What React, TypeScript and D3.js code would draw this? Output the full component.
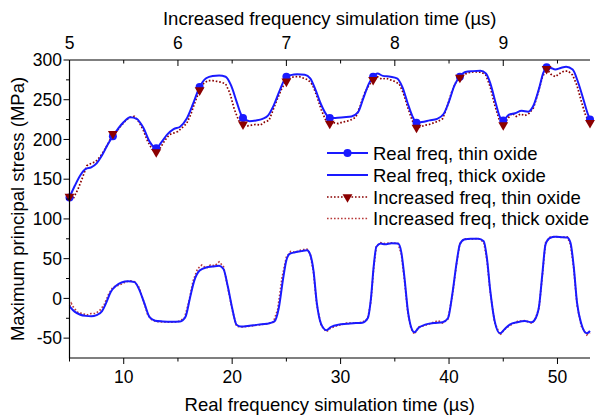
import React from 'react';
import * as d3 from 'd3';

// Real-frequency runs: [time (µs, real frequency), max principal stress (MPa)]
const realThinOxide: [number, number][] = [
  [5.0, 127], [5.5, 142], [6.0, 155], [6.5, 163], [7.0, 165], [7.5, 170], [8.0, 180], [8.5, 193],
  [9.0, 204], [9.5, 214], [10.0, 222], [10.6, 228], [11.2, 226], [11.8, 215], [12.4, 197], [13.0, 189],
  [13.5, 197], [14.0, 206], [14.6, 213], [15.2, 216], [15.8, 226], [16.4, 245], [17.0, 266], [17.6, 277],
  [18.2, 280], [18.8, 280.5], [19.4, 279], [19.9, 268], [20.4, 248], [20.8, 232], [21.0, 227], [21.6, 223],
  [22.2, 224], [22.8, 226], [23.3, 230], [23.8, 242], [24.4, 262], [25.0, 279], [25.4, 281], [26.0, 282],
  [26.7, 281.5], [27.2, 277], [27.7, 262], [28.2, 244], [28.7, 231], [29.0, 227], [29.5, 227], [30.3, 228],
  [31.0, 229], [31.6, 234], [32.1, 252], [32.6, 270], [33.0, 279], [33.4, 283], [33.9, 280], [34.6, 279],
  [35.2, 277], [35.7, 266], [36.2, 245], [36.6, 230], [37.0, 221], [37.5, 222], [38.2, 224], [38.9, 226],
  [39.5, 232], [40.0, 248], [40.5, 268], [41.0, 279], [41.5, 285], [42.2, 286], [42.9, 286.5], [43.4, 283],
  [43.8, 271], [44.3, 246], [44.7, 228], [45.0, 224], [45.5, 231], [46.1, 233], [46.7, 236], [47.3, 235],
  [47.8, 243], [48.3, 264], [48.7, 284], [49.0, 291], [49.4, 290], [49.8, 288], [50.3, 290], [50.8, 291.5],
  [51.4, 288], [51.9, 272], [52.4, 250], [52.8, 232], [53.0, 225],
];

const realThickOxide: [number, number][] = [
  [5.0, -10], [5.5, -17], [6.0, -20.5], [6.5, -22], [7.0, -22.5], [7.5, -21], [8.0, -16], [8.4, -5],
  [8.8, 8], [9.3, 16], [9.8, 20], [10.4, 21.5], [11.0, 20.5], [11.4, 12], [11.9, -6], [12.4, -24],
  [12.9, -28], [13.6, -29], [14.4, -29.5], [15.2, -29], [15.7, -23], [16.1, 0], [16.5, 22], [17.0, 35],
  [17.6, 39], [18.2, 40], [18.8, 41], [19.2, 37], [19.6, 15], [20.0, -12], [20.4, -33], [20.8, -35.5],
  [21.6, -34.5], [22.4, -33], [23.2, -32], [23.9, -29], [24.3, -12], [24.7, 25], [25.0, 48], [25.3, 56],
  [25.8, 58], [26.4, 59.5], [26.9, 60.5], [27.2, 55], [27.5, 35], [27.8, -5], [28.2, -32], [28.7, -40],
  [29.1, -36], [29.8, -33], [30.6, -32], [31.4, -31], [32.0, -30.5], [32.5, -25], [32.8, 0], [33.05, 40],
  [33.3, 65], [33.7, 69], [34.1, 68], [34.7, 69.5], [35.3, 69], [35.6, 58], [35.9, 25], [36.2, -15],
  [36.5, -36], [36.8, -42.5], [37.2, -37], [37.8, -33], [38.6, -31], [39.4, -30], [39.9, -25], [40.3, 5],
  [40.7, 45], [41.0, 68], [41.4, 74], [42.0, 75], [42.7, 75], [43.2, 72], [43.5, 50], [43.8, 10],
  [44.2, -28], [44.7, -44], [45.1, -39], [45.6, -33], [46.3, -30], [47.0, -28.5], [47.6, -30], [47.9, -27],
  [48.3, -10], [48.6, 30], [48.9, 68], [49.3, 76], [49.8, 77.5], [50.4, 77], [50.9, 76.5], [51.2, 70],
  [51.5, 40], [51.8, -5], [52.2, -32], [52.7, -44], [53.0, -41],
];

// Increased-frequency runs: [time (µs, increased frequency), max principal stress (MPa)]
const incThinOxide: [number, number][] = [
  [5.00, 128], [5.04, 127], [5.08, 138], [5.12, 152], [5.16, 167], [5.20, 170], [5.24, 172], [5.28, 178],
  [5.32, 186], [5.36, 196], [5.40, 207], [5.44, 211], [5.48, 218], [5.52, 224], [5.56, 228], [5.60, 229],
  [5.64, 222], [5.68, 212], [5.72, 198], [5.76, 188], [5.80, 184], [5.84, 190], [5.88, 199], [5.92, 206],
  [5.96, 208], [6.00, 210], [6.04, 215], [6.08, 220], [6.12, 232], [6.16, 248], [6.20, 262], [6.24, 271],
  [6.28, 274], [6.32, 274], [6.36, 273], [6.40, 272], [6.44, 270], [6.48, 258], [6.52, 238], [6.56, 224],
  [6.60, 219], [6.64, 217], [6.68, 218], [6.72, 219], [6.76, 218], [6.80, 222], [6.84, 224], [6.88, 238],
  [6.92, 252], [6.96, 265], [7.00, 273], [7.04, 278], [7.08, 279], [7.12, 279], [7.16, 277], [7.20, 275],
  [7.24, 269], [7.28, 255], [7.32, 238], [7.36, 225], [7.40, 220], [7.44, 221], [7.48, 220], [7.52, 222],
  [7.56, 223], [7.60, 225], [7.64, 228], [7.68, 242], [7.72, 258], [7.76, 268], [7.80, 275], [7.84, 279],
  [7.88, 276], [7.92, 277], [7.96, 275], [8.00, 273], [8.04, 270], [8.08, 258], [8.12, 240], [8.16, 224],
  [8.20, 215], [8.24, 216], [8.28, 218], [8.32, 219], [8.36, 221], [8.40, 223], [8.44, 226], [8.48, 240],
  [8.52, 258], [8.56, 271], [8.60, 278], [8.64, 282], [8.68, 284], [8.72, 285], [8.76, 285], [8.80, 284.5],
  [8.84, 281], [8.88, 266], [8.92, 244], [8.96, 226], [9.00, 218], [9.04, 226], [9.08, 233], [9.12, 229],
  [9.16, 232], [9.20, 230], [9.24, 233], [9.28, 240], [9.32, 258], [9.36, 278], [9.40, 289], [9.44, 282],
  [9.48, 279], [9.52, 283], [9.56, 286], [9.60, 286], [9.64, 281], [9.68, 268], [9.72, 248], [9.76, 230],
  [9.80, 221],
];

const incThickOxide: [number, number][] = [
  [5.0, -10], [5.015, -6], [5.04, -12], [5.08, -18], [5.12, -19], [5.16, -21], [5.2, -19], [5.24, -19],
  [5.28, -15], [5.32, -8], [5.36, 5], [5.4, 14], [5.44, 16], [5.48, 18], [5.52, 21], [5.56, 22],
  [5.6, 21], [5.64, 14], [5.68, -2], [5.72, -20], [5.76, -27], [5.8, -29], [5.84, -29.5], [5.92, -30],
  [6.0, -29.5], [6.06, -25], [6.1, -5], [6.14, 22], [6.18, 37], [6.22, 42], [6.26, 38], [6.3, 42],
  [6.34, 41], [6.38, 46], [6.42, 40], [6.46, 14], [6.5, -14], [6.54, -35], [6.58, -36], [6.66, -35],
  [6.74, -33.5], [6.82, -32], [6.88, -30], [6.92, -14], [6.96, 26], [7.0, 52], [7.04, 59], [7.08, 58],
  [7.14, 61], [7.19, 62], [7.22, 56], [7.25, 33], [7.28, -8], [7.32, -34], [7.37, -42], [7.41, -37],
  [7.48, -34], [7.56, -31], [7.64, -31], [7.7, -30], [7.75, -26], [7.78, -3], [7.805, 38], [7.83, 66],
  [7.87, 70], [7.91, 69], [7.97, 70], [8.03, 69], [8.06, 56], [8.09, 22], [8.12, -18], [8.15, -38],
  [8.18, -45], [8.22, -36], [8.28, -34], [8.36, -30], [8.4, -28], [8.44, -31], [8.49, -26], [8.53, 3],
  [8.57, 44], [8.6, 69], [8.64, 75], [8.7, 74.5], [8.77, 75.5], [8.82, 71], [8.85, 48], [8.88, 8],
  [8.92, -30], [8.97, -46], [9.01, -39], [9.06, -34], [9.13, -29], [9.2, -28], [9.26, -31], [9.29, -28],
  [9.33, -12], [9.36, 28], [9.39, 70], [9.43, 77], [9.48, 78], [9.54, 76.5], [9.59, 77.5], [9.62, 68],
  [9.65, 38], [9.68, -8], [9.72, -35], [9.77, -46], [9.8, -43],
];

const realMarkerTimes = [5, 9, 13, 17, 21, 25, 29, 33, 37, 41, 45, 49, 53];
const incMarkerTimes = [5.0, 5.4, 5.8, 6.2, 6.6, 7.0, 7.4, 7.8, 8.2, 8.6, 9.0, 9.4, 9.8];

const stressTicks = [-50, 0, 50, 100, 150, 200, 250, 300];
const stressMinorTicks = [-25, 25, 75, 125, 175, 225, 275];
const realTicks = [10, 20, 30, 40, 50];
const realMinorTicks = [5, 15, 25, 35, 45];
const incTicks = [5, 6, 7, 8, 9];
const incMinorTicks = [5.5, 6.5, 7.5, 8.5, 9.5];

const legendLabels = [
  'Real freq, thin oxide',
  'Real freq, thick oxide',
  'Increased freq, thin oxide',
  'Increased freq, thick oxide',
];

const BLUE = '#1a1aff';
const DARK_RED = '#8b0000';
const LIGHT_RED = '#b83a3a';
const DOTS = '1.6,1.9';
const FONT = 'Arial, "Liberation Sans", sans-serif';

export default function App() {
  const W = 595;
  const H = 417;
  const left = 69.5;
  const right = 590;
  const top = 60;
  const bottom = 358;

  const xReal = d3.scaleLinear().domain([5, 53]).range([left, right]);
  const xInc = d3.scaleLinear().domain([5, 9.8]).range([left, right]);
  const y = d3.scaleLinear().domain([-75, 300]).range([bottom, top]);

  const realLine = d3
    .line<[number, number]>()
    .x((d) => xReal(d[0]))
    .y((d) => y(d[1]))
    .curve(d3.curveMonotoneX);
  const incLine = d3
    .line<[number, number]>()
    .x((d) => xInc(d[0]))
    .y((d) => y(d[1]));

  const findPoint = (series: [number, number][], t: number) =>
    series.find((d) => Math.abs(d[0] - t) < 1e-6)!;

  const tri = d3.symbol(d3.symbolTriangle, 42)()!;
  const triDown = (cx: number, cy: number) => `translate(${cx},${cy}) rotate(180)`;

  const tickFont = 17.5;
  const titleFont = 18.5;
  const major = 6;
  const minor = 3.5;

  const legX0 = 327;
  const legX1 = 368;
  const legText = 373;
  const legRows = [153, 175, 197, 218.5];

  return (
    <svg
      width={W}
      height={H}
      viewBox={`0 0 ${W} ${H}`}
      style={{ position: 'absolute', left: 0, top: 0, background: '#fff' }}
      fontFamily={FONT}
    >
      <rect x={0} y={0} width={W} height={H} fill="#fff" />

      {/* data lines */}
      <path d={incLine(incThickOxide)!} fill="none" stroke={LIGHT_RED} strokeWidth={1.7} strokeDasharray={DOTS} />
      <path d={incLine(incThinOxide)!} fill="none" stroke={DARK_RED} strokeWidth={1.7} strokeDasharray={DOTS} />
      <path d={realLine(realThickOxide)!} fill="none" stroke={BLUE} strokeWidth={2} />
      <path d={realLine(realThinOxide)!} fill="none" stroke={BLUE} strokeWidth={2} />

      {/* markers */}
      {realMarkerTimes.map((t) => {
        const p = findPoint(realThinOxide, t);
        return p ? <circle key={`c${t}`} cx={xReal(p[0])} cy={y(p[1])} r={4} fill={BLUE} /> : null;
      })}
      {incMarkerTimes.map((t) => {
        const p = findPoint(incThinOxide, t);
        return p ? (
          <path key={`t${t}`} d={tri} transform={triDown(xInc(p[0]), y(p[1]))} fill={DARK_RED} />
        ) : null;
      })}

      {/* axes lines */}
      <g stroke="#000" strokeWidth={1.2} fill="none">
        <line x1={left} x2={left} y1={top} y2={bottom + 0.6} />
        <line x1={left} x2={right} y1={bottom} y2={bottom} />
        <line x1={left} x2={right} y1={top} y2={top} />
      </g>

      {/* left axis */}
      <g stroke="#000" strokeWidth={1}>
        {stressTicks.map((v) => (
          <line key={`ly${v}`} x1={left - major} x2={left} y1={y(v)} y2={y(v)} />
        ))}
        {stressMinorTicks.map((v) => (
          <line key={`lym${v}`} x1={left - minor} x2={left} y1={y(v)} y2={y(v)} />
        ))}
      </g>
      {stressTicks.map((v) => (
        <text key={`lt${v}`} x={left - major - 1.5} y={y(v)} dy="0.35em" textAnchor="end" fontSize={tickFont}>
          {v}
        </text>
      ))}

      {/* bottom axis */}
      <g stroke="#000" strokeWidth={1}>
        {realTicks.map((v) => (
          <line key={`bx${v}`} x1={xReal(v)} x2={xReal(v)} y1={bottom} y2={bottom + major} />
        ))}
        {realMinorTicks.map((v) => (
          <line key={`bxm${v}`} x1={xReal(v)} x2={xReal(v)} y1={bottom} y2={bottom + minor} />
        ))}
      </g>
      {realTicks.map((v) => (
        <text key={`bt${v}`} x={xReal(v)} y={383} textAnchor="middle" fontSize={tickFont}>
          {v}
        </text>
      ))}

      {/* top axis */}
      <g stroke="#000" strokeWidth={1}>
        {incTicks.map((v) => (
          <line key={`tx${v}`} x1={xInc(v)} x2={xInc(v)} y1={top} y2={top + major} />
        ))}
        {incMinorTicks.map((v) => (
          <line key={`txm${v}`} x1={xInc(v)} x2={xInc(v)} y1={top} y2={top + minor} />
        ))}
      </g>
      {incTicks.map((v) => (
        <text key={`tt${v}`} x={xInc(v)} y={49} textAnchor="middle" fontSize={tickFont}>
          {v}
        </text>
      ))}

      {/* axis titles */}
      <text x={(left + right) / 2} y={25} textAnchor="middle" fontSize={titleFont}>
        Increased frequency simulation time (µs)
      </text>
      <text x={(left + right) / 2} y={411} textAnchor="middle" fontSize={titleFont}>
        Real frequency simulation time (µs)
      </text>
      <text
        transform={`translate(24,${(top + bottom) / 2}) rotate(-90)`}
        textAnchor="middle"
        fontSize={titleFont}
      >
        Maximum principal stress (MPa)
      </text>

      {/* legend */}
      <g>
        <line x1={legX0} x2={legX1} y1={legRows[0]} y2={legRows[0]} stroke={BLUE} strokeWidth={2} />
        <circle cx={(legX0 + legX1) / 2} cy={legRows[0]} r={4} fill={BLUE} />
        <line x1={legX0} x2={legX1} y1={legRows[1]} y2={legRows[1]} stroke={BLUE} strokeWidth={2} />
        <line
          x1={legX0}
          x2={legX1}
          y1={legRows[2]}
          y2={legRows[2]}
          stroke={DARK_RED}
          strokeWidth={1.7}
          strokeDasharray={DOTS}
        />
        <path d={tri} transform={triDown((legX0 + legX1) / 2, legRows[2])} fill={DARK_RED} />
        <line
          x1={legX0}
          x2={legX1}
          y1={legRows[3]}
          y2={legRows[3]}
          stroke={LIGHT_RED}
          strokeWidth={1.7}
          strokeDasharray={DOTS}
        />
        {legendLabels.map((label, i) => (
          <text key={label} x={legText} y={legRows[i]} dy="0.36em" fontSize={titleFont}>
            {label}
          </text>
        ))}
      </g>
    </svg>
  );
}
